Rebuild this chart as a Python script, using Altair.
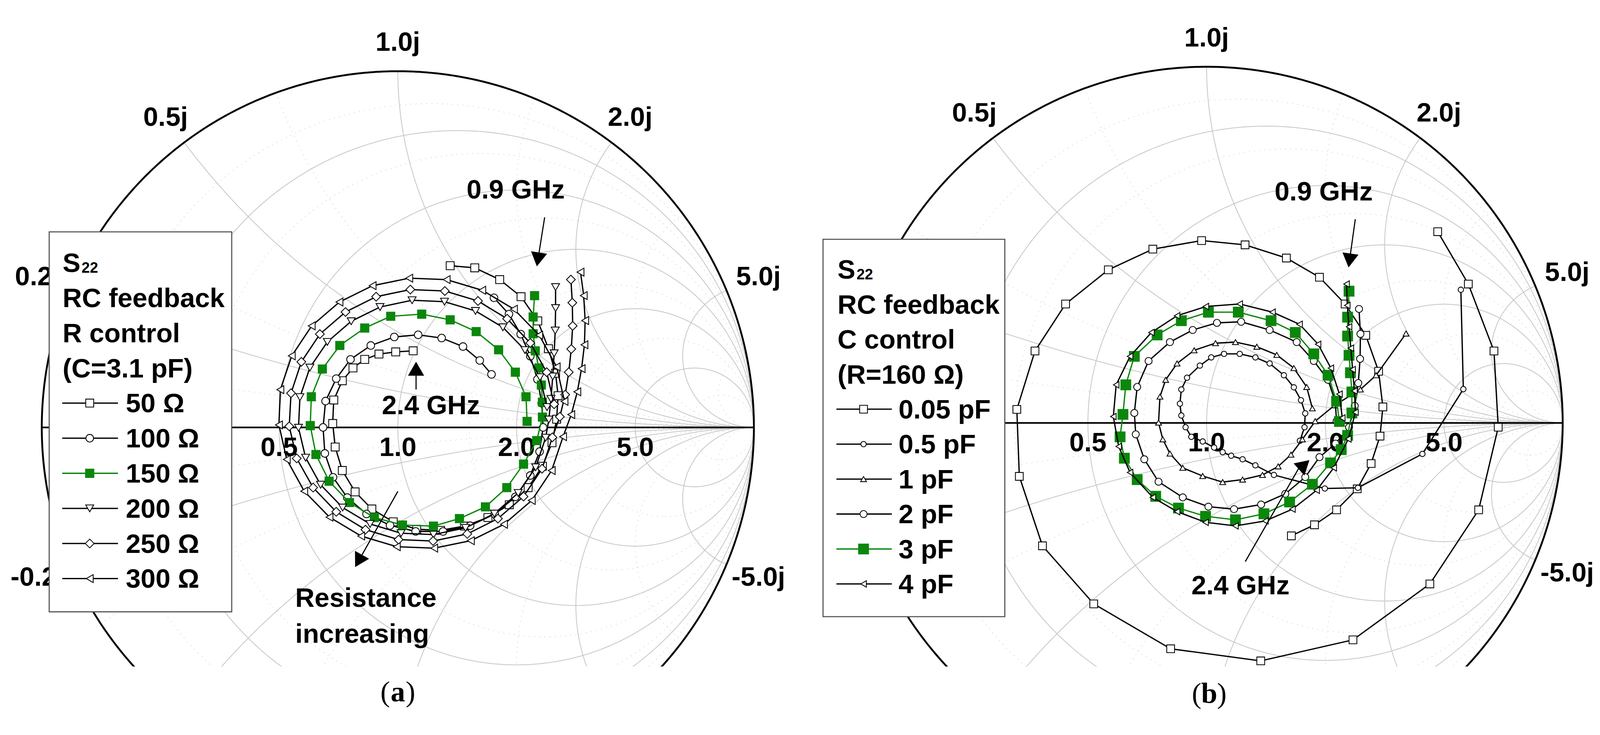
import math
import numpy as np
import pandas as pd
import altair as alt

alt.data_transformers.disable_max_rows()

# ---------------- S22 traces (Re, Im of reflection coefficient) -------------
# (a) R control, C = 3.1 pF, 0.9 -> 2.4 GHz
a_50 = [(0.147, 0.454), (0.216, 0.448), (0.286, 0.415), (0.346, 0.367), (0.393, 0.299), (0.423, 0.221),
        (0.443, 0.152), (0.450, 0.089), (0.446, 0.023), (0.433, -0.043), (0.406, -0.109), (0.366, -0.169),
        (0.313, -0.217), (0.253, -0.253), (0.187, -0.277), (0.120, -0.289), (0.053, -0.286), (-0.013, -0.265),
        (-0.073, -0.229), (-0.120, -0.181), (-0.156, -0.121), (-0.176, -0.055), (-0.183, 0.011), (-0.180, 0.077),
        (-0.156, 0.131), (-0.126, 0.167), (-0.093, 0.191), (-0.053, 0.206), (-0.006, 0.212), (0.043, 0.215)]
a_100 = [(0.270, 0.364), (0.312, 0.318), (0.345, 0.262), (0.372, 0.200), (0.392, 0.135), (0.404, 0.068),
         (0.408, 0.000), (0.398, -0.068), (0.372, -0.135), (0.330, -0.195), (0.272, -0.243), (0.203, -0.276),
         (0.127, -0.292), (0.050, -0.292), (-0.022, -0.275), (-0.088, -0.243), (-0.142, -0.197), (-0.182, -0.140),
         (-0.205, -0.073), (-0.210, 0.000), (-0.203, 0.074), (-0.173, 0.137), (-0.133, 0.191), (-0.076, 0.230),
         (-0.010, 0.254), (0.057, 0.260), (0.123, 0.251), (0.183, 0.227), (0.230, 0.188), (0.263, 0.149)]
a_150 = [(0.384, 0.370), (0.380, 0.310), (0.380, 0.263), (0.386, 0.215), (0.396, 0.167), (0.403, 0.119),
         (0.406, 0.071), (0.406, 0.029), (0.390, -0.037), (0.353, -0.103), (0.306, -0.169), (0.246, -0.223),
         (0.173, -0.256), (0.100, -0.277), (0.013, -0.274), (-0.066, -0.253), (-0.136, -0.211), (-0.193, -0.151),
         (-0.230, -0.076), (-0.246, 0.005), (-0.243, 0.086), (-0.212, 0.164), (-0.163, 0.230), (-0.093, 0.279),
         (-0.020, 0.312), (0.067, 0.318), (0.147, 0.302), (0.220, 0.269), (0.283, 0.218), (0.330, 0.155),
         (0.360, 0.086), (0.363, 0.017)]
a_200 = [(0.443, 0.394), (0.443, 0.335), (0.442, 0.272), (0.439, 0.208), (0.435, 0.143), (0.430, 0.080),
         (0.424, 0.022), (0.415, -0.029), (0.387, -0.112), (0.338, -0.184), (0.271, -0.242), (0.190, -0.282),
         (0.100, -0.301), (0.009, -0.297), (-0.078, -0.271), (-0.155, -0.225), (-0.217, -0.161), (-0.259, -0.085),
         (-0.279, -0.001), (-0.275, 0.085), (-0.247, 0.168), (-0.198, 0.240), (-0.131, 0.298), (-0.050, 0.338),
         (0.040, 0.357), (0.131, 0.353), (0.218, 0.327), (0.295, 0.281), (0.357, 0.217), (0.399, 0.141),
         (0.419, 0.057)]
a_250 = [(0.486, 0.415), (0.490, 0.350), (0.491, 0.285), (0.487, 0.220), (0.480, 0.155), (0.470, 0.092),
         (0.455, 0.030), (0.434, -0.028), (0.405, -0.116), (0.353, -0.194), (0.281, -0.256), (0.195, -0.299),
         (0.099, -0.319), (0.002, -0.315), (-0.091, -0.287), (-0.173, -0.237), (-0.238, -0.169), (-0.284, -0.087),
         (-0.305, 0.003), (-0.300, 0.096), (-0.271, 0.184), (-0.219, 0.262), (-0.147, 0.324), (-0.061, 0.367),
         (0.035, 0.387), (0.132, 0.383), (0.225, 0.355), (0.307, 0.305), (0.372, 0.237), (0.418, 0.155),
         (0.439, 0.065)]
a_300 = [(0.513, 0.436), (0.522, 0.370), (0.526, 0.300), (0.524, 0.232), (0.516, 0.165), (0.504, 0.100),
         (0.487, 0.036), (0.464, -0.026), (0.432, -0.121), (0.376, -0.205), (0.298, -0.272), (0.205, -0.318),
         (0.102, -0.339), (-0.003, -0.335), (-0.103, -0.305), (-0.192, -0.252), (-0.263, -0.179), (-0.312, -0.090),
         (-0.334, 0.007), (-0.330, 0.106), (-0.298, 0.201), (-0.242, 0.285), (-0.164, 0.352), (-0.071, 0.398),
         (0.032, 0.419), (0.137, 0.415), (0.237, 0.385), (0.326, 0.332), (0.397, 0.259), (0.446, 0.170),
         (0.468, 0.073)]

# (b) C control, R = 160 ohm
b_005 = [(0.649, 0.537), (0.735, 0.390), (0.807, 0.202), (0.819, -0.012), (0.764, -0.244), (0.627, -0.452),
         (0.411, -0.609), (0.152, -0.668), (-0.101, -0.634), (-0.317, -0.508), (-0.461, -0.345), (-0.526, -0.150),
         (-0.533, 0.038), (-0.482, 0.202), (-0.396, 0.334), (-0.276, 0.430), (-0.151, 0.488), (-0.014, 0.512),
         (0.108, 0.500), (0.224, 0.463), (0.317, 0.409), (0.389, 0.334), (0.447, 0.246), (0.483, 0.145),
         (0.495, 0.045), (0.487, -0.037), (0.462, -0.114), (0.423, -0.185), (0.365, -0.244), (0.303, -0.286),
         (0.238, -0.317)]
b_05 = [(0.714, 0.374), (0.721, 0.095), (0.606, -0.087), (0.425, -0.182), (0.332, -0.184), (0.189, -0.146),
        (0.137, -0.119), (0.101, -0.102), (0.069, -0.092), (0.045, -0.082), (0.021, -0.069), (-0.011, -0.052),
        (-0.043, -0.039), (-0.059, -0.012), (-0.071, 0.021), (-0.075, 0.054), (-0.071, 0.094), (-0.055, 0.127),
        (-0.019, 0.161), (0.013, 0.184), (0.049, 0.194), (0.093, 0.194), (0.137, 0.184), (0.177, 0.167),
        (0.217, 0.134), (0.245, 0.100), (0.265, 0.064), (0.277, 0.027), (0.275, -0.012), (0.262, -0.050)]
b_1 = [(0.560, 0.251), (0.476, 0.134), (0.432, 0.094), (0.360, 0.050), (0.305, 0.005), (0.269, -0.046),
       (0.237, -0.089), (0.201, -0.122), (0.157, -0.146), (0.101, -0.159), (0.045, -0.166), (-0.011, -0.149),
       (-0.067, -0.126), (-0.103, -0.086), (-0.123, -0.046), (-0.135, 0.001), (-0.131, 0.074), (-0.115, 0.121),
       (-0.083, 0.167), (-0.035, 0.204), (0.025, 0.224), (0.081, 0.227), (0.141, 0.214), (0.197, 0.191),
       (0.245, 0.154), (0.281, 0.101), (0.297, 0.041)]
b_2 = [(0.428, 0.320), (0.432, 0.250), (0.431, 0.180), (0.426, 0.112), (0.416, 0.048), (0.400, -0.012),
       (0.362, -0.058), (0.317, -0.096), (0.277, -0.152), (0.221, -0.199), (0.153, -0.229), (0.077, -0.242),
       (0.005, -0.235), (-0.067, -0.209), (-0.135, -0.165), (-0.175, -0.102), (-0.199, -0.032), (-0.203, 0.028),
       (-0.195, 0.101), (-0.163, 0.174), (-0.103, 0.227), (-0.039, 0.261), (0.029, 0.281), (0.097, 0.284),
       (0.177, 0.261), (0.253, 0.227), (0.301, 0.174), (0.341, 0.121), (0.361, 0.061), (0.365, 0.005)]
b_3 = [(0.400, 0.370), (0.396, 0.297), (0.396, 0.244), (0.400, 0.190), (0.404, 0.141), (0.408, 0.087),
       (0.408, 0.028), (0.396, -0.035), (0.378, -0.075), (0.348, -0.112), (0.297, -0.172), (0.233, -0.222),
       (0.161, -0.255), (0.081, -0.272), (-0.003, -0.262), (-0.079, -0.239), (-0.143, -0.206), (-0.195, -0.159),
       (-0.231, -0.099), (-0.243, -0.039), (-0.235, 0.024), (-0.227, 0.107), (-0.203, 0.187), (-0.139, 0.247),
       (-0.071, 0.287), (0.005, 0.311), (0.089, 0.311), (0.181, 0.287), (0.249, 0.254), (0.301, 0.194),
       (0.341, 0.134), (0.365, 0.061), (0.373, 0.004)]
b_4 = [(0.393, 0.390), (0.395, 0.330), (0.400, 0.270), (0.405, 0.210), (0.410, 0.150), (0.415, 0.090),
       (0.418, 0.030), (0.398, -0.045), (0.357, -0.126), (0.309, -0.189), (0.241, -0.242), (0.165, -0.275),
       (0.081, -0.289), (-0.003, -0.279), (-0.083, -0.249), (-0.151, -0.209), (-0.215, -0.139), (-0.247, -0.066),
       (-0.262, 0.018), (-0.254, 0.107), (-0.215, 0.187), (-0.155, 0.254), (-0.083, 0.301), (-0.002, 0.327),
       (0.093, 0.334), (0.185, 0.311), (0.261, 0.277), (0.313, 0.221), (0.349, 0.154), (0.373, 0.081),
       (0.381, 0.014)]

labels_a = ["50 Ω", "100 Ω", "150 Ω", "200 Ω", "250 Ω", "300 Ω"]
labels_b = ["0.05 pF", "0.5 pF", "1 pF", "2 pF", "3 pF", "4 pF"]
heads_a = ["RC feedback", "R control", "(C=3.1 pF)"]
heads_b = ["RC feedback", "C control", "(R=160 Ω)"]

# Smith chart grid values and tick labels
r_solid = [0.2, 0.5, 1.0, 2.0, 5.0]
r_dotted = [0.1, 0.3, 0.7, 1.5, 3.0, 10.0]
x_solid = [0.2, 0.5, 1.0, 2.0, 5.0]
x_dotted = [0.1, 0.3, 0.7, 1.5, 3.0, 10.0]
real_ticks = [0.5, 1.0, 2.0, 5.0]
imag_ticks_a = [0.2, 0.5, 1.0, 2.0, 5.0, -0.2, -0.5, -1.0, -2.0, -5.0]
imag_ticks_b = [0.5, 1.0, 2.0, 5.0, -0.5, -1.0, -2.0, -5.0]   # +-0.2j lie fully under the legend

# ---------------- styling / layout ----------------
FONT = "Liberation Sans"
SERIF = "Liberation Serif"
GREEN = "#0b870b"
RADIUS = 958.0
TOP = 8
PLOT_H = 1737
HEAD_SIZE = 1900
LINE_W = 3.5

styles_a = [("square", "white", "black", 460), ("circle", "white", "black", 420),
            ("square", GREEN, GREEN, 500), ("triangle-down", "white", "black", 460),
            ("diamond", "white", "black", 560), ("triangle-left", "white", "black", 460)]
styles_b = [("square", "white", "black", 440), ("circle", "white", "black", 210),
            ("triangle-up", "white", "black", 250), ("circle", "white", "black", 360),
            ("square", GREEN, GREEN, 720), ("triangle-left", "white", "black", 300)]


def smith_grid(r_list, x_list, ymin):
    rows = []
    gid = 0
    t = np.radians(np.arange(-90.0, 270.01, 0.5))
    for r in r_list:
        c, rad = r / (1 + r), 1 / (1 + r)
        gx = c + rad * np.cos(t)
        gy = rad * np.sin(t)
        keep = gy >= ymin - 0.01
        for k, (a, b) in enumerate(zip(gx[keep], gy[keep])):
            rows.append((gid, k, a, b))
        gid += 1
    rr = np.concatenate([[0.0], np.logspace(-3, 4, 500)])
    for xv in x_list:
        for s in (1.0, -1.0):
            z = rr + 1j * s * xv
            g = (z - 1) / (z + 1)
            keep = g.imag >= ymin - 0.01
            for k, (a, b) in enumerate(zip(g.real[keep], g.imag[keep])):
                rows.append((gid, k, a, b))
            gid += 1
    return pd.DataFrame(rows, columns=["gid", "k", "gx", "gy"])


def make_panel(geo, traces, labels, styles, heads, imag_ticks, box, leg, annots, arrows, caption):
    cx, cy, left, width = geo
    R = RADIUS
    xs = alt.Scale(domain=[(left - cx) / R, (left + width - cx) / R], nice=False, zero=False)
    ymin = (cy - (TOP + PLOT_H)) / R
    ys = alt.Scale(domain=[ymin, (cy - TOP) / R], nice=False, zero=False)

    def X(f="gx"):
        return alt.X(f"{f}:Q", scale=xs, axis=None)

    def Y(f="gy"):
        return alt.Y(f"{f}:Q", scale=ys, axis=None)

    def gx(px):
        return (px - cx) / R

    def gy(py):
        return (cy - py) / R

    layers = []
    # grid
    dotted = smith_grid(r_dotted, x_dotted, ymin)
    layers.append(alt.Chart(dotted).mark_line(color="#cccccc", strokeWidth=2, strokeDash=[2, 12], clip=True)
                  .encode(x=X(), y=Y(), detail="gid:N", order="k:Q"))
    solid = smith_grid(r_solid, x_solid, ymin)
    layers.append(alt.Chart(solid).mark_line(color="#c8c8c8", strokeWidth=2.2, clip=True)
                  .encode(x=X(), y=Y(), detail="gid:N", order="k:Q"))
    outer = smith_grid([0.0], [], ymin)
    layers.append(alt.Chart(outer).mark_line(color="black", strokeWidth=5, clip=True)
                  .encode(x=X(), y=Y(), order="k:Q"))
    axis_df = pd.DataFrame({"gx": [-1.0, 1.0], "gy": [0.0, 0.0]})
    layers.append(alt.Chart(axis_df).mark_line(color="black", strokeWidth=4.5)
                  .encode(x=X(), y=Y()))

    # tick labels
    rows = []
    for xv in imag_ticks:
        th = math.atan2(2 * xv, xv * xv - 1)
        f = 1.080 + 0.02 * math.cos(th) ** 2
        px, py = f * math.cos(th), f * math.sin(th)
        if py - 0.04 < ymin:
            continue
        rows.append((px, py, f"{xv:.1f}j"))
    for rv in real_ticks:
        rows.append(((rv - 1) / (rv + 1), -0.057, f"{rv:.1f}"))
    tick_df = pd.DataFrame(rows, columns=["gx", "gy", "t"])
    layers.append(alt.Chart(tick_df).mark_text(font=FONT, fontSize=72, fontWeight="bold", color="black",
                                               align="center", baseline="middle")
                  .encode(x=X(), y=Y(), text="t:N"))

    # traces
    for pts, (shape, fill, stroke, size) in zip(traces, styles):
        df = pd.DataFrame({"gx": [p[0] for p in pts], "gy": [p[1] for p in pts], "k": range(len(pts))})
        layers.append(alt.Chart(df).mark_line(color=stroke, strokeWidth=LINE_W, clip=True)
                      .encode(x=X(), y=Y(), order="k:Q"))
        layers.append(alt.Chart(df).mark_point(shape=shape, size=size, filled=True, fill=fill, stroke=stroke,
                                               strokeWidth=2.2, opacity=1, clip=True)
                      .encode(x=X(), y=Y()))

    # legend box
    bx0, by0, bx1, by1 = box
    box_df = pd.DataFrame({"gx": [gx(bx0)], "gx2": [gx(bx1)], "gy": [gy(by0)], "gy2": [gy(by1)]})
    layers.append(alt.Chart(box_df).mark_rect(fill="white", stroke="#555555", strokeWidth=3)
                  .encode(x=X(), x2=alt.X2("gx2:Q"), y=Y(), y2=alt.Y2("gy2:Q")))
    row0, step, tx, lx0, lx1, mx, labx = leg
    big = [(gx(tx), gy(row0), "S")]
    for i, h in enumerate(heads):
        big.append((gx(tx), gy(row0 + (i + 1) * step), h))
    for j, lab in enumerate(labels):
        big.append((gx(labx), gy(row0 + (4 + j) * step), lab))
    big_df = pd.DataFrame(big, columns=["gx", "gy", "t"])
    layers.append(alt.Chart(big_df).mark_text(font=FONT, fontSize=72, fontWeight="bold", color="black",
                                              align="left", baseline="middle")
                  .encode(x=X(), y=Y(), text="t:N"))
    sub_df = pd.DataFrame({"gx": [gx(tx + 51)], "gy": [gy(row0 + 24)], "t": ["22"]})
    layers.append(alt.Chart(sub_df).mark_text(font=FONT, fontSize=40, fontWeight="bold", color="black",
                                              align="left", baseline="alphabetic")
                  .encode(x=X(), y=Y(), text="t:N"))
    for j, (shape, fill, stroke, size) in enumerate(styles):
        yy = row0 + (4 + j) * step - 3
        ldf = pd.DataFrame({"gx": [gx(lx0)], "gx2": [gx(lx1)], "gy": [gy(yy)]})
        layers.append(alt.Chart(ldf).mark_rule(color=stroke, strokeWidth=LINE_W)
                      .encode(x=X(), x2=alt.X2("gx2:Q"), y=Y()))
        pdf = pd.DataFrame({"gx": [gx(mx)], "gy": [gy(yy)]})
        layers.append(alt.Chart(pdf).mark_point(shape=shape, size=size, filled=True, fill=fill, stroke=stroke,
                                                strokeWidth=2.2, opacity=1)
                      .encode(x=X(), y=Y()))

    # annotations
    for (px, py, t, align) in annots:
        adf = pd.DataFrame({"gx": [gx(px)], "gy": [gy(py)], "t": [t]})
        layers.append(alt.Chart(adf).mark_text(font=FONT, fontSize=72, fontWeight="bold", color="black",
                                               align=align, baseline="middle")
                      .encode(x=X(), y=Y(), text="t:N"))
    h2 = math.tan(math.radians(30)) * math.sqrt(HEAD_SIZE)
    for (tail, tip, d) in arrows:
        tx0, ty0 = tail
        px, py = tip
        dx, dy = d if d is not None else (px - tx0, py - ty0)
        n = math.hypot(dx, dy)
        dx, dy = dx / n, dy / n
        hx, hy = px - h2 * dx, py - h2 * dy
        sdf = pd.DataFrame({"gx": [gx(tx0)], "gy": [gy(ty0)], "gx2": [gx(hx)], "gy2": [gy(hy)]})
        layers.append(alt.Chart(sdf).mark_rule(color="black", strokeWidth=3)
                      .encode(x=X(), y=Y(), x2=alt.X2("gx2:Q"), y2=alt.Y2("gy2:Q")))
        ang = math.degrees(math.atan2(-dx, dy)) % 360
        hdf = pd.DataFrame({"gx": [gx(hx)], "gy": [gy(hy)], "ang": [ang]})
        layers.append(alt.Chart(hdf).mark_point(shape="triangle-down", size=HEAD_SIZE, filled=True,
                                                color="black", opacity=1, strokeWidth=0)
                      .encode(x=X(), y=Y(), angle=alt.Angle("ang:Q", scale=None)))

    # caption
    cpx, cpy, letter = caption
    cdf = pd.DataFrame({"gx": [gx(cpx)], "gy": [gy(cpy)], "t": [letter]})
    layers.append(alt.Chart(cdf).mark_text(font=SERIF, fontSize=78, fontWeight="bold", color="black",
                                           align="center", baseline="middle")
                  .encode(x=X(), y=Y(), text="t:N"))
    for t, al, ddx in (("(", "right", -21), (")", "left", 21)):
        pdf = pd.DataFrame({"gx": [gx(cpx)], "gy": [gy(cpy)], "t": [t]})
        layers.append(alt.Chart(pdf).mark_text(font=SERIF, fontSize=78, color="black",
                                               align=al, baseline="middle", dx=ddx)
                      .encode(x=X(), y=Y(), text="t:N"))

    return alt.layer(*layers).properties(width=width, height=PLOT_H)


panel_a = make_panel(
    geo=(1070, 1102, 8, 2150),
    traces=[a_50, a_100, a_150, a_200, a_250, a_300], labels=labels_a, styles=styles_a, heads=heads_a,
    imag_ticks=imag_ticks_a,
    box=(132, 576, 623, 1598),
    leg=(662, 94.4, 168, 167, 317, 241, 338),
    annots=[(1387, 464, "0.9 GHz", "center"), (1159, 1044, "2.4 GHz", "center"),
            (794, 1563, "Resistance", "left"), (794, 1659, "increasing", "left")],
    arrows=[((1465, 537), (1443, 675), None), ((1119, 1000), (1119, 919), None),
            ((1070, 1274), (952, 1483), None)],
    caption=(1070, 1816, "a"),
)
panel_b = make_panel(
    geo=(3246, 1090, 2158, 2138),
    traces=[b_005, b_05, b_1, b_2, b_3, b_4], labels=labels_b, styles=styles_b, heads=heads_b,
    imag_ticks=imag_ticks_b,
    box=(2214, 596, 2703, 1611),
    leg=(680, 94.0, 2253, 2250, 2399, 2323, 2417),
    annots=[(3561, 470, "0.9 GHz", "center"), (3337, 1529, "2.4 GHz", "center")],
    arrows=[((3646, 542), (3627, 678), None), ((3350, 1463), (3474, 1197), (-0.95, -0.31))],
    caption=(3253, 1820, "b"),
)

chart = alt.hconcat(panel_a, panel_b, spacing=0).properties(padding=0).configure_view(stroke=None)
chart.save("out.html", embed_options={"renderer": "svg", "actions": False})
